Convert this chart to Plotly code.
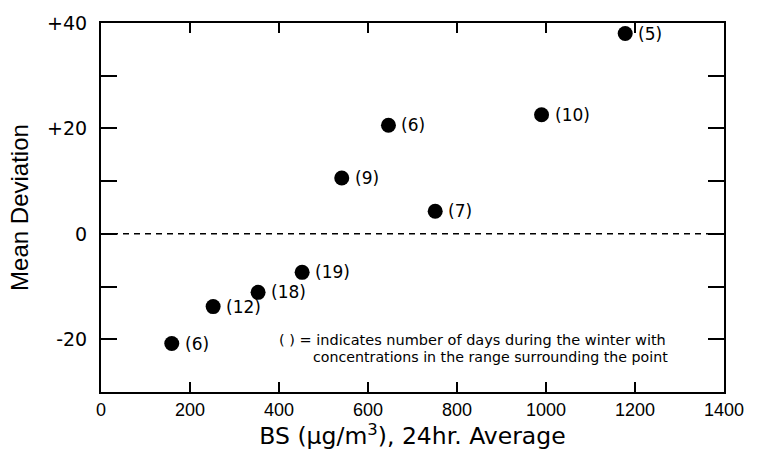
import plotly.graph_objects as go

# ---- data ----
bs_conc = [159, 252, 353, 452, 541, 646, 751, 990, 1178]
mean_dev = [-20.8, -13.8, -11.1, -7.3, 10.6, 20.6, 4.3, 22.6, 38.0]
n_days = [6, 12, 18, 19, 9, 6, 7, 10, 5]
point_labels = [f"({d})" for d in n_days]

x_tickvals = [0, 200, 400, 600, 800, 1000, 1200, 1400]
y_tickvals = [-20, 0, 20, 40]
y_ticktext = ["-20", "0", "+20", "+40"]
y_minor_tickvals = [-10, 10, 30]

note_line1 = "( ) = indicates number of days during the winter with"
note_line2 = "concentrations in the range surrounding the point"

fig = go.Figure()

fig.add_trace(go.Scatter(
    x=bs_conc, y=mean_dev, mode="markers",
    marker=dict(color="black", size=15, line=dict(width=0)),
    showlegend=False, hoverinfo="skip",
))

# zero reference line (dashed)
fig.add_shape(type="line", xref="x", yref="y", x0=0, x1=1400, y0=0, y1=0,
              line=dict(color="black", width=1.5, dash="6px,5px"))

annotations = []
for xv, yv, lab in zip(bs_conc, mean_dev, point_labels):
    annotations.append(dict(
        x=xv, y=yv, text=lab, showarrow=False, xanchor="left", yanchor="middle",
        xshift=11, font=dict(family="DejaVu Sans", size=17, color="black"),
    ))

annotations.append(dict(
    x=395, y=-20.2, text=note_line1, showarrow=False, xanchor="left", yanchor="middle",
    font=dict(family="DejaVu Sans", size=14.5, color="black"),
))
annotations.append(dict(
    x=472, y=-23.4, text=note_line2, showarrow=False, xanchor="left", yanchor="middle",
    font=dict(family="DejaVu Sans", size=14.2, color="black"),
))

fig.update_layout(
    width=759, height=453,
    margin=dict(l=101, r=35, t=21, b=61),
    paper_bgcolor="white", plot_bgcolor="white",
    annotations=annotations,
    font=dict(family="Liberation Sans, Arial, sans-serif", color="black"),
)

fig.update_xaxes(
    range=[0, 1400], tickvals=x_tickvals,
    showgrid=False, zeroline=False,
    showline=True, linecolor="black", linewidth=2, mirror="allticks",
    ticks="inside", ticklen=10, tickwidth=1.5, tickcolor="black",
    tickfont=dict(family="Liberation Sans, Arial", size=18, color="black"),
    title=dict(text="BS (µg/m<sup>3</sup>), 24hr. Average",
               font=dict(family="DejaVu Sans", size=23.5, color="black"), standoff=5),
)
fig.update_yaxes(
    range=[-30, 40], tickvals=y_tickvals, ticktext=y_ticktext,
    showgrid=False, zeroline=False,
    showline=True, linecolor="black", linewidth=2, mirror="allticks",
    ticks="inside", ticklen=16, tickwidth=1.5, tickcolor="black",
    minor=dict(tickmode="array", tickvals=y_minor_tickvals, ticks="inside",
               ticklen=16, tickwidth=1.5, tickcolor="black", showgrid=False),
    ticklabelstandoff=8,
    tickfont=dict(family="DejaVu Sans", size=19, color="black"),
    title=dict(text="Mean Deviation",
               font=dict(family="Liberation Sans, Arial", size=24, color="black"), standoff=12),
)

fig.write_html("out.html")
